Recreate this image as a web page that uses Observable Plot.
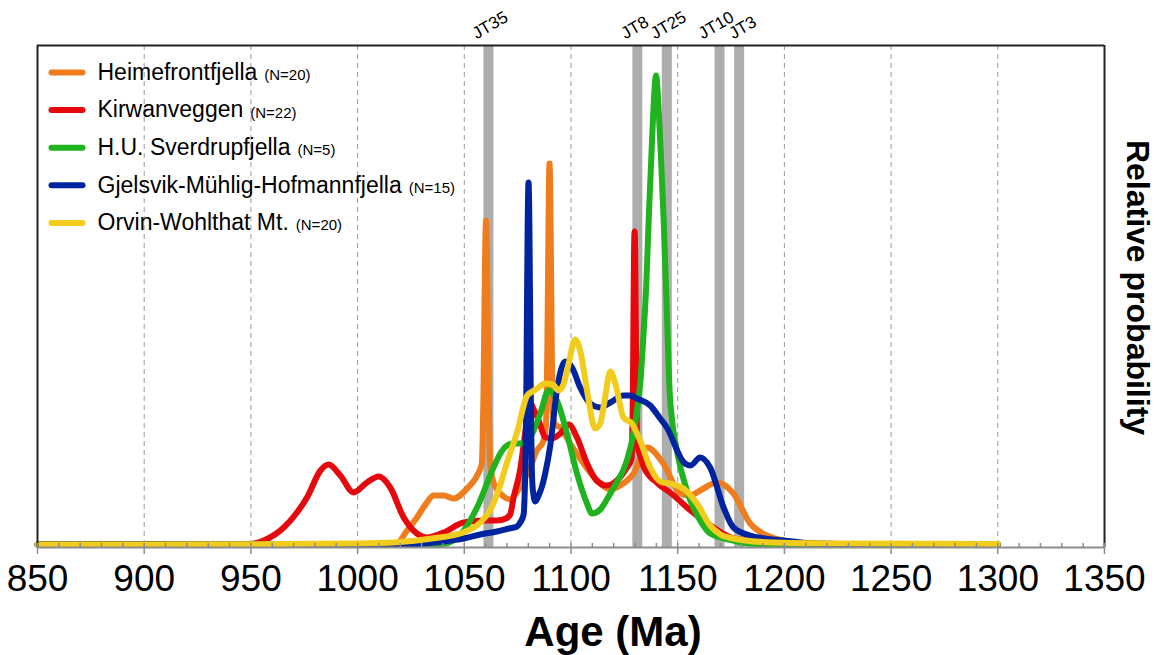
<!DOCTYPE html>
<html><head><meta charset="utf-8">
<script src="https://cdn.jsdelivr.net/npm/d3@7"></script>
<script src="https://cdn.jsdelivr.net/npm/@observablehq/plot@0.6"></script>
<style>body{margin:0;background:#fff;} #chart svg{display:block;}</style>
</head><body><div id="chart"></div>
<script>
// ---- data ----
const seriesNames = ["Heimefrontfjella", "Kirwanveggen", "H.U. Sverdrupfjella", "Gjelsvik-Mühlig-Hofmannfjella", "Orvin-Wohlthat Mt."];
const seriesCounts = ["(N=20)", "(N=22)", "(N=5)", "(N=15)", "(N=20)"];
const seriesColors = ["#EF7D1E", "#E5080C", "#1FB41F", "#0024A0", "#F2CC1D"];

// [age (Ma), relative probability (arbitrary units)]
const heimefrontfjella = [[850,0],[1000,0],[1012,0.5],[1018.5,1.5],[1023.2,14],[1027.8,27],[1032.5,42],[1035.6,49],[1040.3,49],[1045,46],[1051.3,56],[1056.7,72],[1058.2,81],[1058.6,105],[1059,152],[1059.4,227],[1059.8,296],[1060.2,324],[1060.6,296],[1061,227],[1061.4,152],[1061.8,105],[1062.2,80],[1063.7,62],[1068.4,48],[1071.5,45],[1073.1,48],[1077.8,64],[1080.9,77],[1084,94],[1087,103],[1088.2,117],[1088.55,142],[1088.9,193],[1089.25,273],[1089.6,348],[1089.95,381],[1090.3,348],[1090.65,273],[1091,193],[1091.35,142],[1091.7,127],[1092.6,120],[1095,117],[1099.6,101],[1105.9,81],[1112.2,64],[1118.4,55],[1123.1,59],[1129.3,71],[1135.6,97],[1143.3,81],[1151.2,51],[1155.9,49],[1160.5,54],[1168.4,62],[1176.1,51],[1184,21],[1191.8,9],[1199.6,4],[1210.5,1],[1250,0],[1300,0]];
const kirwanveggen = [[850,0],[940,0],[949.8,0.5],[956,4],[965.4,17],[971.6,32],[976.3,47],[982.6,74],[986.4,80],[991.9,69],[998.1,52],[1004.4,62],[1009.9,68],[1015.3,57],[1021.6,27],[1027.8,11],[1032.5,7],[1040.3,12],[1049.7,22],[1059,24],[1065.3,24],[1069.5,26],[1071.5,30],[1073.1,47],[1076.2,75],[1078.5,111],[1080.7,143],[1082.5,135],[1084.3,127],[1088.2,107],[1091,106],[1095,111],[1099,120],[1102.8,107],[1107.5,81],[1112,64],[1116.8,59],[1121.5,64],[1126.2,77],[1128.4,86],[1128.7,107],[1129,151],[1129.25,220],[1129.5,284],[1129.8,313],[1130.1,284],[1130.35,220],[1130.6,151],[1130.9,110],[1131.3,98],[1132.3,90],[1134,78],[1140.7,61],[1147,51],[1156,34],[1164,21],[1175,7],[1183,4],[1200,1],[1230,0],[1300,0]];
const sverdrupfjella = [[850,0],[1030,0],[1040.3,0.5],[1049.7,14],[1056,37],[1063.7,77],[1066.9,91],[1070,99],[1073.1,101],[1077.8,101],[1080.9,107],[1085.6,131],[1089.5,154],[1093.4,144],[1098.1,111],[1102.8,71],[1107.5,41],[1109.8,31],[1113.7,35],[1116.8,45],[1120,57],[1126.2,84],[1129,108],[1131,135],[1132.6,165],[1134,211],[1135.3,261],[1136.5,330],[1137.6,385],[1138.5,430],[1139.85,469],[1141.2,430],[1142.2,385],[1143.5,320],[1144.8,240],[1146.3,150],[1147.5,122],[1149.6,94],[1154.3,54],[1160.5,24],[1165.2,11],[1176,4],[1182.6,1],[1200,0],[1300,0]];
const gjelsvik = [[850,0],[1000,0],[1027.8,0.5],[1040,3],[1049.7,6],[1057.5,10],[1065.3,13],[1071,16],[1074.7,18],[1076.2,22],[1077.8,30],[1078.2,45],[1078.6,75],[1079,136],[1079.35,231],[1079.7,320],[1080.1,362],[1080.5,320],[1080.85,231],[1081.2,136],[1081.6,80],[1082.1,55],[1083.3,43],[1085,50],[1086.4,58],[1088,72],[1090.3,99],[1093.4,154],[1097.3,183],[1100.5,177],[1104.3,157],[1109,141],[1113.7,137],[1118.4,142],[1124.6,149],[1127.7,149],[1130.9,146],[1137.1,139],[1141.8,126],[1144.9,117],[1152.9,82],[1156,79],[1160.5,87],[1165.2,77],[1171.5,37],[1176.1,17],[1184,9],[1199.6,4],[1215,1],[1250,0],[1300,0]];
const orvinWohlthat = [[850,0],[950,0.3],[1000,1],[1018.5,2.3],[1034,5.7],[1049.7,12.3],[1057.5,22],[1062,34],[1066,54],[1070,82],[1074.7,112],[1079.5,149],[1083.5,155],[1088,161],[1091.5,160],[1094.2,154],[1096.8,162],[1099,182],[1101.9,205],[1104.5,192],[1107.5,154],[1111.3,116],[1113.7,121],[1115.6,142],[1118.4,173],[1121,159],[1124.6,127],[1128.5,121],[1132.4,104],[1137.1,77],[1141.8,63],[1148,60],[1152.7,56],[1159,41],[1165.2,19],[1170,10],[1176,6],[1191.8,2.3],[1230,1],[1300,0.5]];

const refLabels = ["JT35", "JT8", "JT25", "JT10", "JT3"];
const refAges = [1061.3, 1131.1, 1144.9, 1169.6, 1178.8];

const majorTicks = [850, 900, 950, 1000, 1050, 1100, 1150, 1200, 1250, 1300, 1350];
const minorTicks = [850,860,870,880,890,900,910,920,930,940,950,960,970,980,990,1000,1010,1020,1030,1040,1050,1060,1070,1080,1090,1100,1110,1120,1130,1140,1150,1160,1170,1180,1190,1200,1210,1220,1230,1240,1250,1260,1270,1280,1290,1300,1310,1320,1330,1340,1350];
const gridTicks = [900, 950, 1000, 1050, 1100, 1150, 1200, 1250, 1300];
const xLabel = "Age (Ma)";
const yLabel = "Relative probability";

// ---- build ----
const allSeries = [heimefrontfjella, kirwanveggen, sverdrupfjella, gjelsvik, orvinWohlthat];
const rows = allSeries.flatMap((pts, i) => pts.map(([age, p]) => ({series: seriesNames[i], age, p})));
const refs = refAges.map((age, i) => ({age, label: refLabels[i]}));

const FONT = "'Liberation Sans', Arial, Helvetica, sans-serif";
const ctx = document.createElement("canvas").getContext("2d");
ctx.font = `23px ${FONT}`;

const lineSymbol = {draw(context) { context.moveTo(-15.5, 0); context.lineTo(15.5, 0); }};

const legendMarks = seriesNames.flatMap((name, i) => {
  const dy = 27 + i * 37.6;
  const w = ctx.measureText(name).width;
  return [
    Plot.dot([0], {frameAnchor: "top-left", dx: 29.5, dy, symbol: lineSymbol, fill: "none", stroke: seriesColors[i], strokeWidth: 6, strokeLinecap: "round"}),
    Plot.text([name], {frameAnchor: "top-left", dx: 60, dy, text: d => d, fontSize: 23, textAnchor: "start", lineAnchor: "middle", fill: "#000"}),
    Plot.text([seriesCounts[i]], {frameAnchor: "top-left", dx: 60 + w + 7, dy: dy + 2.6, text: d => d, fontSize: 15, textAnchor: "start", lineAnchor: "middle", fill: "#000"})
  ];
});

// label placement tweaks (pixel offsets) so the crowded labels do not collide
const labelOffsets = {JT35: -12, JT8: -12, JT25: -12, JT10: -17, JT3: -6};
const refLabelMarks = Object.entries(labelOffsets).map(([lab, dx]) =>
  Plot.text(refs, {filter: d => d.label === lab, x: "age", text: "label", frameAnchor: "top", dx, dy: -6, rotate: -30, textAnchor: "start", lineAnchor: "bottom", fontSize: 17, fill: "#000"})
);

const chart = Plot.plot({
  width: 1168,
  height: 655,
  marginLeft: 37,
  marginRight: 64,
  marginTop: 45,
  marginBottom: 108,
  style: {fontFamily: FONT, background: "#fff", overflow: "visible"},
  x: {domain: [850, 1350], axis: null},
  y: {domain: [-3, 499], axis: null},
  color: {domain: seriesNames, range: seriesColors},
  marks: [
    Plot.ruleX(gridTicks, {stroke: "#9a9a9a", strokeWidth: 1, strokeDasharray: "5,4"}),
    Plot.ruleX(refs, {x: "age", stroke: "#adadad", strokeWidth: 10}),
    Plot.line(rows, {x: "age", y: "p", z: "series", stroke: "series", strokeWidth: 6, curve: "monotone-x", strokeLinecap: "round", strokeLinejoin: "round"}),
    Plot.ruleX([850, 1350], {stroke: "#222", strokeWidth: 2}),
    Plot.ruleY([499], {stroke: "#222", strokeWidth: 2}),
    Plot.ruleY([-3], {stroke: "#8c8c8c", strokeWidth: 2}),
    Plot.axisX({ticks: minorTicks, tickSize: -4, tickFormat: () => "", label: null, stroke: "#8c8c8c", strokeWidth: 1.5}),
    Plot.axisX({ticks: majorTicks, tickSize: 7, tickPadding: 10, fontSize: 37, stroke: "#8c8c8c", strokeWidth: 1.5, fill: "#000", label: null, tickFormat: d => String(d)}),
    ...refLabelMarks,
    Plot.text([xLabel], {frameAnchor: "bottom", dx: 42, dy: 98, text: d => d, fontSize: 42, fontWeight: "bold", textAnchor: "middle", lineAnchor: "bottom", fill: "#000"}),
    Plot.text([yLabel], {frameAnchor: "right", dx: 33, dy: -9, text: d => d, rotate: 90, fontSize: 32, fontWeight: "bold", textAnchor: "middle", lineAnchor: "middle", fill: "#000"}),
    ...legendMarks
  ]
});
document.getElementById("chart").appendChild(chart);
</script>
</body></html>
